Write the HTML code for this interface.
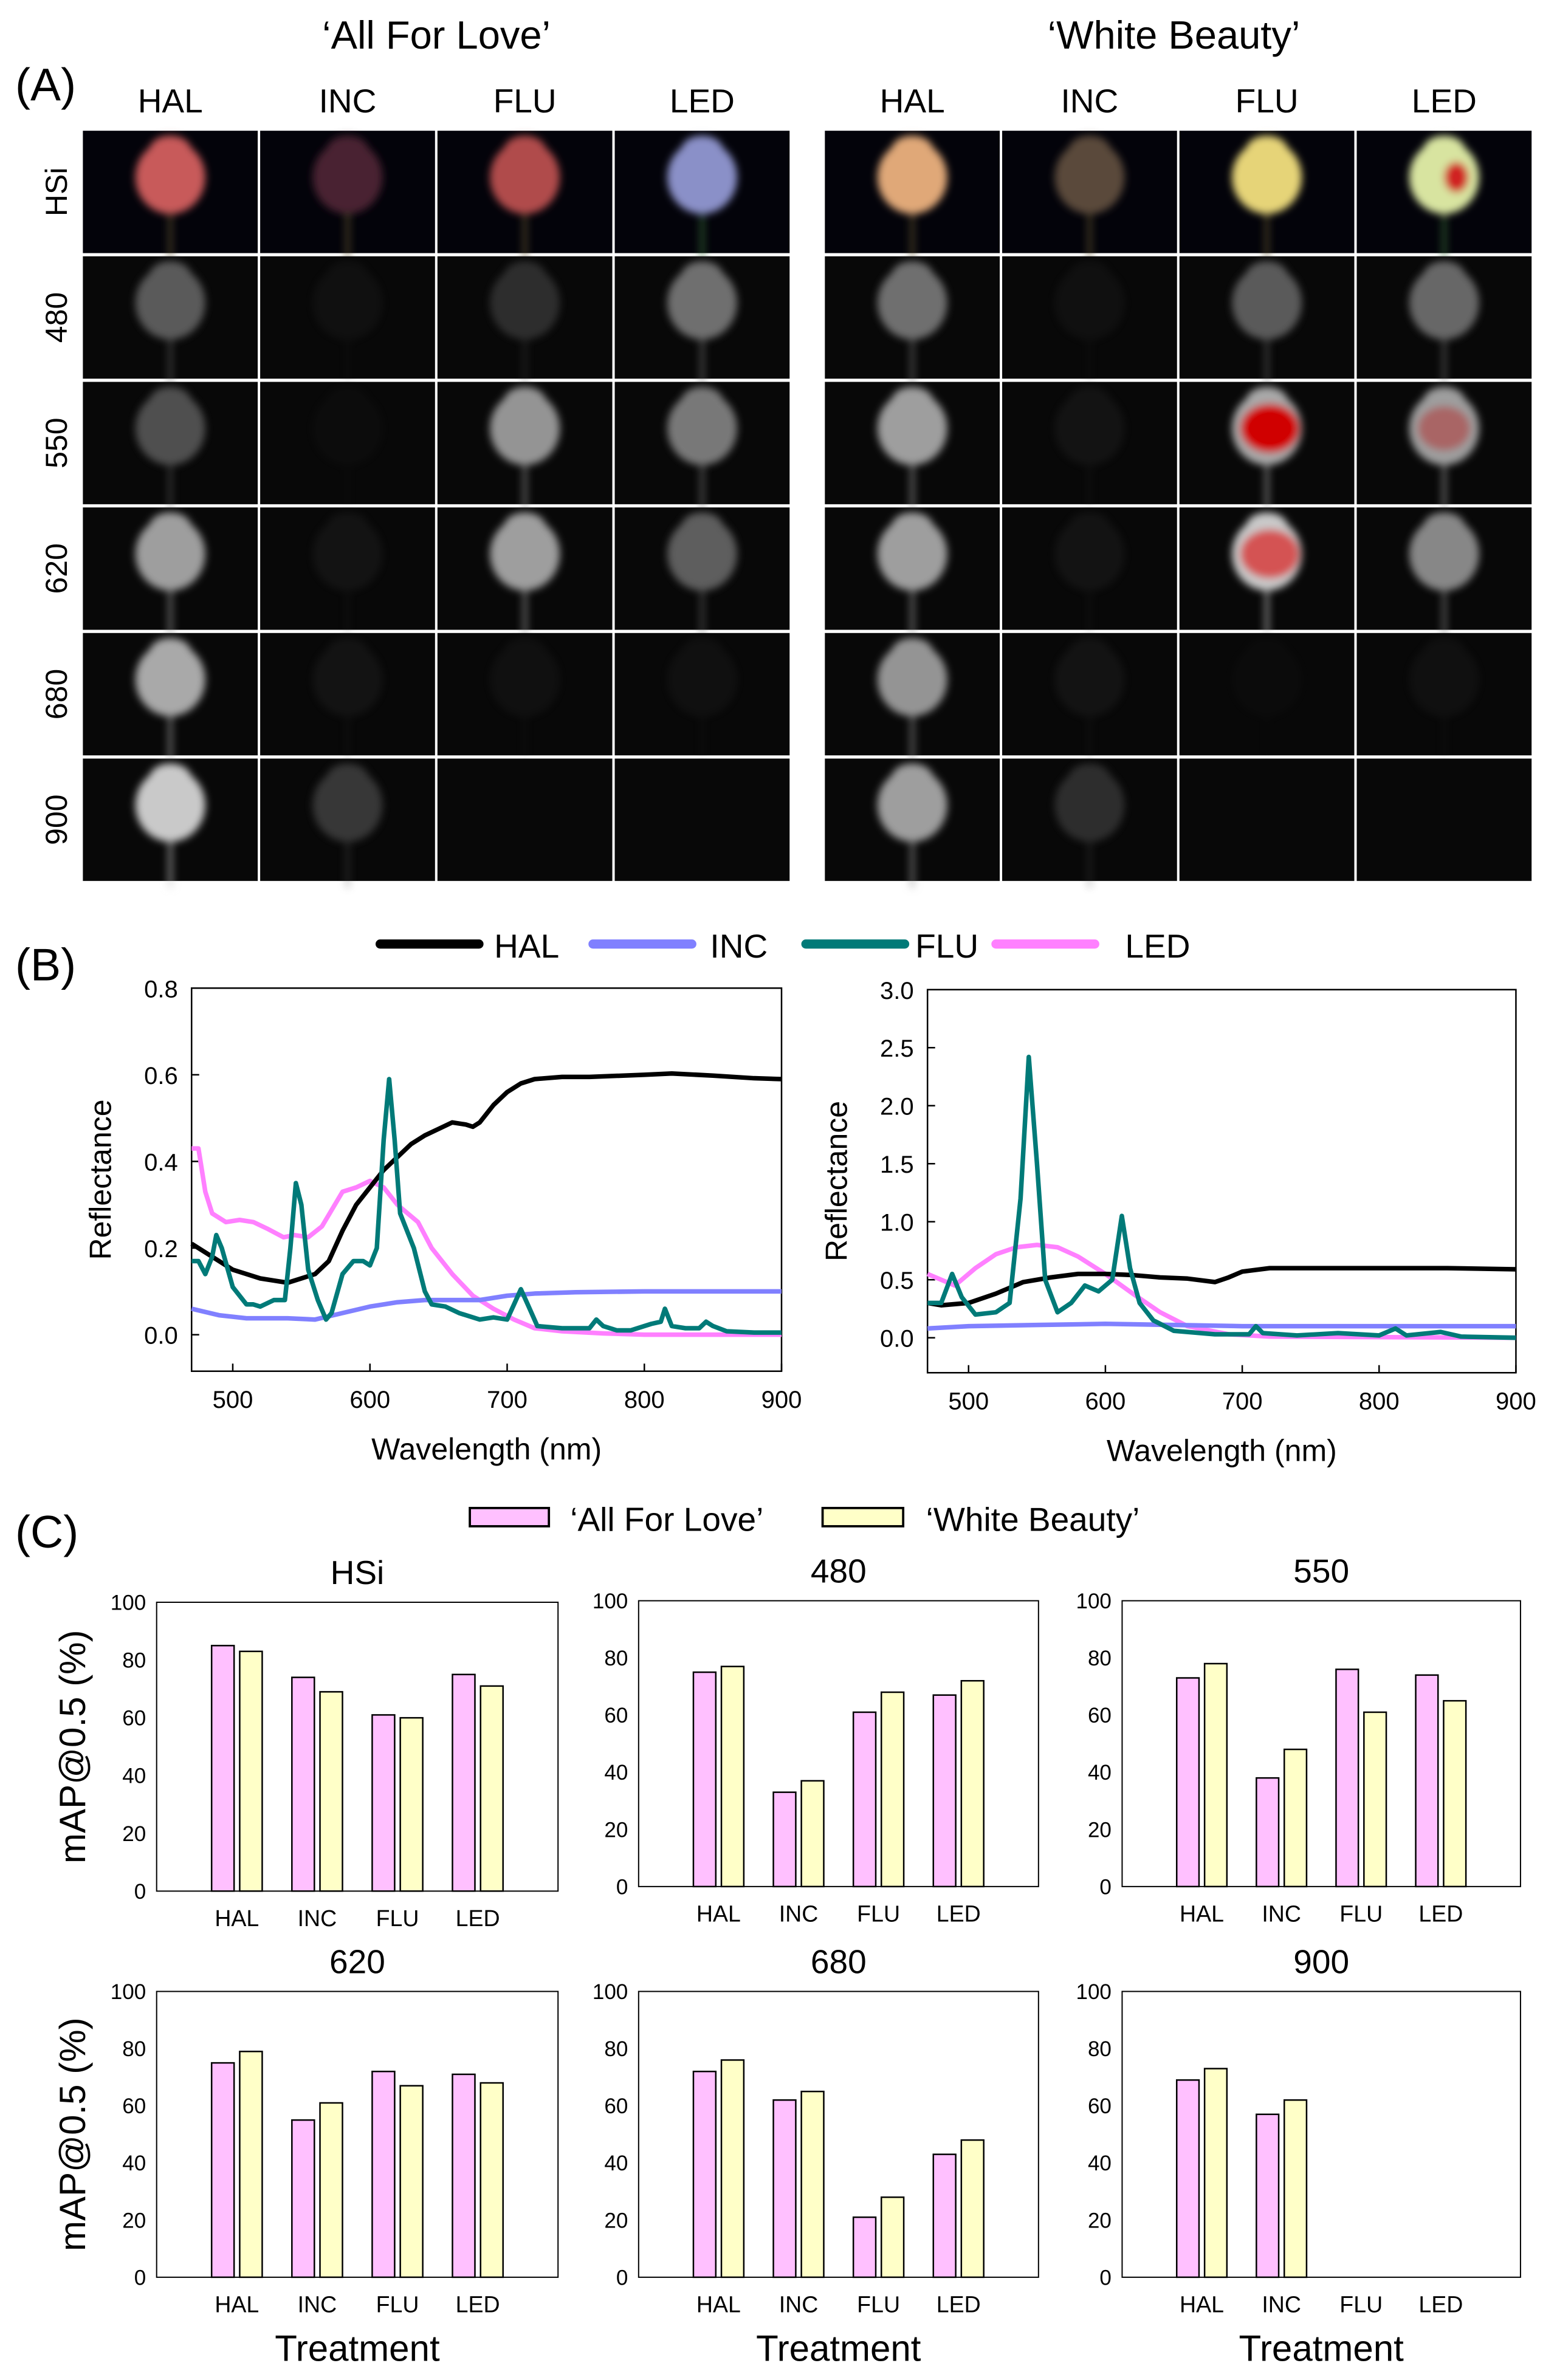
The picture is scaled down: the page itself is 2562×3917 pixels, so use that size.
<!DOCTYPE html>
<html><head><meta charset="utf-8"><style>
html,body{margin:0;padding:0;background:#fff}
svg{display:block}
text{font-family:"Liberation Sans",Arial,sans-serif;fill:#000}
</style></head><body>
<svg id="fig" width="2562" height="3917" viewBox="0 0 1024 1565.6" xmlns="http://www.w3.org/2000/svg">
<defs>
<filter id="blur" x="-30%" y="-30%" width="160%" height="160%"><feGaussianBlur stdDeviation="2.5"/></filter>
</defs>
<g id="panelA"></g>
<g id="panelB"></g>
<g id="panelC"></g>
</svg>
<script>
// ---------- Panel B data ----------
const wlL_HAL=[470,480,490,500,510,520,530,540,550,560,570,580,590,600,610,620,630,640,650,660,670,675,680,690,700,710,720,740,760,800,820,850,880,900];
const rfL_HAL=[0.21,0.19,0.17,0.15,0.14,0.13,0.125,0.12,0.13,0.14,0.17,0.24,0.30,0.34,0.38,0.41,0.44,0.46,0.475,0.49,0.485,0.48,0.49,0.53,0.56,0.58,0.59,0.595,0.595,0.6,0.603,0.598,0.592,0.59];
const wlL_INC=[470,490,510,540,560,580,600,620,640,680,700,720,750,800,900];
const rfL_INC=[0.06,0.045,0.038,0.038,0.035,0.05,0.065,0.075,0.08,0.08,0.09,0.095,0.098,0.1,0.1];
const wlL_FLU=[470,475,480,485,488,492,500,510,515,520,530,538,542,546,550,555,562,568,572,580,588,595,600,605,610,614,618,622,632,640,645,655,665,680,690,700,705,710,715,722,740,760,765,770,780,790,805,812,815,820,830,840,845,850,860,880,900];
const rfL_FLU=[0.17,0.17,0.14,0.18,0.23,0.2,0.11,0.07,0.07,0.065,0.08,0.08,0.2,0.35,0.3,0.15,0.08,0.035,0.05,0.14,0.17,0.17,0.16,0.2,0.45,0.59,0.45,0.28,0.2,0.1,0.07,0.065,0.05,0.035,0.04,0.035,0.07,0.105,0.07,0.02,0.015,0.015,0.035,0.02,0.01,0.01,0.025,0.03,0.06,0.02,0.015,0.015,0.03,0.02,0.008,0.005,0.005];
const wlL_LED=[470,475,480,485,495,505,515,525,537,545,555,565,580,590,600,610,620,635,645,660,675,690,705,720,740,770,800,900];
const rfL_LED=[0.43,0.43,0.33,0.28,0.26,0.265,0.26,0.245,0.225,0.23,0.225,0.25,0.33,0.34,0.355,0.34,0.3,0.26,0.2,0.14,0.09,0.06,0.035,0.015,0.008,0.003,0,0];
const wlR_HAL=[470,480,500,520,540,560,580,600,620,640,660,680,690,700,720,760,800,850,900];
const rfR_HAL=[0.3,0.28,0.3,0.38,0.48,0.52,0.55,0.55,0.54,0.52,0.51,0.48,0.52,0.57,0.6,0.6,0.6,0.6,0.59];
const wlR_INC=[470,500,550,600,650,700,900];
const rfR_INC=[0.08,0.1,0.11,0.12,0.11,0.1,0.1];
const wlR_FLU=[470,480,488,495,505,520,530,538,544,550,556,565,575,585,595,605,612,618,625,635,650,680,705,710,715,740,770,800,812,820,845,860,900];
const rfR_FLU=[0.3,0.3,0.55,0.35,0.2,0.22,0.3,1.2,2.42,1.5,0.5,0.22,0.3,0.45,0.4,0.5,1.05,0.6,0.3,0.15,0.06,0.03,0.03,0.1,0.04,0.02,0.04,0.02,0.08,0.02,0.05,0.01,0];
const wlR_LED=[470,490,505,520,535,550,565,580,600,620,640,660,690,720,900];
const rfR_LED=[0.55,0.45,0.6,0.72,0.78,0.8,0.78,0.7,0.55,0.38,0.22,0.1,0.03,0.01,0];
const ticksL=["0.0","0.2","0.4","0.6","0.8"];
const ticksR=["0.0","0.5","1.0","1.5","2.0","2.5","3.0"];
const xTicks=["500","600","700","800","900"];
// ---------- Panel C data ----------
const cats=["HAL","INC","FLU","LED"];
const bandTitles=["HSi","480","550","620","680","900"];
const afl=[[85,74,61,75],[75,33,61,67],[73,38,76,74],[75,55,72,71],[72,62,21,43],[69,57,0,0]];
const wb=[[83,69,60,71],[77,37,68,72],[78,48,61,65],[79,61,67,68],[76,65,28,48],[73,62,0,0]];
const barTicks=["0","20","40","60","80","100"];
// ---------- Panel A image intensities ----------
const rowLabels=["HSi","480","550","620","680","900"];
const lightCols=["HAL","INC","FLU","LED"];
const aflTint=["#c85a5a","#4a2432","#b04c4c","#8a90c8"];
const wbTint=["#e0a878","#5a4a3a","#e6d478","#d8e4a0"];
const aflGray=[[0.35,0.08,0.22,0.4],[0.32,0.05,0.5,0.42],[0.55,0.1,0.55,0.36],[0.6,0.1,0.08,0.08],[0.75,0.25,0,0]];
const wbGray=[[0.4,0.08,0.35,0.38],[0.55,0.1,0.6,0.55],[0.55,0.1,0.75,0.45],[0.5,0.1,0.04,0.08],[0.55,0.22,0,0]];

const NS="http://www.w3.org/2000/svg";
function mk(tag,attrs,parent,txt){const e=document.createElementNS(NS,tag);for(const k in attrs)e.setAttribute(k,attrs[k]);if(txt!==undefined)e.textContent=txt;parent.appendChild(e);return e;}

// ===== Panel A =====
const A=document.getElementById('panelA');
let t;
t=mk('text',{x:10,y:66,'font-size':30},A,'(A)');

t=mk('text',{x:287,y:32,'font-size':26,'text-anchor':'middle'},A,'\u2018All For Love\u2019');

t=mk('text',{x:772,y:32,'font-size':26,'text-anchor':'middle'},A,'\u2018White Beauty\u2019');

const groups=[{x0:54.5,tint:aflTint,gray:aflGray,name:'all-for-love'},{x0:542.5,tint:wbTint,gray:wbGray,name:'white-beauty'}];
const cw=115,ch=80.5,pitchX=116.6,pitchY=82.6,y0=86;
groups.forEach((g,gi)=>{
  lightCols.forEach((lc,ci)=>{
    t=mk('text',{x:g.x0+ci*pitchX+cw/2,y:74,'font-size':22,'text-anchor':'middle'},A,lc);
    
  });
  rowLabels.forEach((rl,ri)=>{
    lightCols.forEach((lc,ci)=>{
      const x=g.x0+ci*pitchX,y=y0+ri*pitchY;
      const cell=mk('g',{},A);
      
      
      mk('rect',{x:x,y:y,width:cw,height:ch,fill:ri==0?'#03030a':'#080808'},cell);
      let col,op=1;
      if(ri==0){col=g.tint[ci];}
      else{const v=g.gray[ri-1][ci];const c=Math.round(40+215*v);col='rgb('+c+','+c+','+c+')';op=Math.min(1,v*2.2);}
      if(op>0.02){
        const cx=x+cw/2,cy=y+ch*0.38;
        const gg=mk('g',{opacity:op,filter:'url(#blur)'},cell);
        mk('rect',{x:cx-1.5,y:cy+10,width:3,height:ch*0.55,fill:ri==0?(ci==3?'#3a7a3a':'#6a5a30'):col,opacity:0.6},gg);
        mk('ellipse',{cx:cx,cy:cy,rx:cw*0.2,ry:ch*0.3,fill:col},gg);
        mk('ellipse',{cx:cx,cy:cy-ch*0.22,rx:cw*0.12,ry:ch*0.12,fill:col},gg);
        if(gi==1&&ci==2&&(ri==2||ri==3)){mk('ellipse',{cx:cx+2,cy:cy,rx:cw*0.17,ry:ch*0.2,fill:ri==2?'#d00000':'#d82020',opacity:ri==2?1:0.7},gg);}
        if(gi==1&&ci==3&&ri==0){mk('ellipse',{cx:cx+8,cy:cy,rx:8,ry:10,fill:'#d02020'},gg);}
        if(gi==1&&ci==3&&ri==2){mk('ellipse',{cx:cx,cy:cy,rx:cw*0.15,ry:ch*0.18,fill:'#b04040',opacity:0.6},gg);}
      }
    });
  });
});
rowLabels.forEach((rl,ri)=>{
  const cy=y0+ri*pitchY+ch/2;
  t=mk('text',{x:0,y:0,'font-size':20,'text-anchor':'middle',transform:'translate(44,'+cy+') rotate(-90)'},A,rl);
  
});

// ===== Panel B =====
const B=document.getElementById('panelB');
t=mk('text',{x:10,y:645,'font-size':30},B,'(B)');

const legendItems=[["HAL","#000",250,325],["INC","#8080ff",390,467],["FLU","#007a78",530,602],["LED","#ff80ff",655,740]];
legendItems.forEach(li=>{
  const g=mk('g',{},B);
  
  mk('line',{x1:li[2],y1:621,x2:li[2]+65,y2:621,stroke:li[1],'stroke-width':6,'stroke-linecap':'round'},g);
  mk('text',{x:li[3],y:630,'font-size':22},g,li[0]);
});
function lineChart(opt){
  const g=mk('g',{},B);
  
  const X=w=>opt.x0+(w-470)/(900-470)*(opt.x1-opt.x0);
  const Y=v=>opt.yZero-(v/opt.yMaxTick)*(opt.yZero-opt.yTop);
  const r=mk('rect',{x:opt.x0,y:opt.yTop,width:opt.x1-opt.x0,height:opt.yBot-opt.yTop,fill:'none',stroke:'#000','stroke-width':1},g);
  
  opt.ticks.forEach((tk,i)=>{
    const v=parseFloat(tk),y=Y(v);
    mk('line',{x1:opt.x0,y1:y,x2:opt.x0+5,y2:y,stroke:'#000','stroke-width':1},g);
    const tt=mk('text',{x:opt.x0-9,y:y+6,'font-size':16,'text-anchor':'end'},g,tk);
    
  });
  xTicks.forEach(tk=>{
    const x=X(+tk);
    mk('line',{x1:x,y1:opt.yBot,x2:x,y2:opt.yBot-5,stroke:'#000','stroke-width':1},g);
    const tt=mk('text',{x:x,y:opt.yBot+24,'font-size':16,'text-anchor':'middle'},g,tk);
    
  });
  let tt=mk('text',{x:(opt.x0+opt.x1)/2,y:opt.yBot+58,'font-size':20,'text-anchor':'middle'},g,'Wavelength (nm)');
  
  tt=mk('text',{x:0,y:0,'font-size':20,'text-anchor':'middle',transform:'translate('+opt.ytx+','+((opt.yTop+opt.yBot)/2)+') rotate(-90)'},g,'Reflectance');
  
  opt.series.forEach(s=>{
    const d=s.w.map((w,i)=>(i?'L':'M')+X(w).toFixed(2)+','+Y(s.v[i]).toFixed(2)).join('');
    const p=mk('path',{d:d,fill:'none',stroke:s.c,'stroke-width':3,'stroke-linejoin':'round'},g);
    
  });
}
lineChart({name:'chart-all-for-love-spectra',x0:126,x1:514,yTop:650,yBot:902,yZero:878,yMaxTick:0.8,ticks:ticksL,ytx:73,
  series:[{n:'led',c:'#ff80ff',w:wlL_LED,v:rfL_LED},{n:'inc',c:'#8080ff',w:wlL_INC,v:rfL_INC},{n:'hal',c:'#000',w:wlL_HAL,v:rfL_HAL},{n:'flu',c:'#007a78',w:wlL_FLU,v:rfL_FLU}]});
lineChart({name:'chart-white-beauty-spectra',x0:610,x1:997,yTop:651,yBot:903,yZero:880,yMaxTick:3.0,ticks:ticksR,ytx:557,
  series:[{n:'led',c:'#ff80ff',w:wlR_LED,v:rfR_LED},{n:'inc',c:'#8080ff',w:wlR_INC,v:rfR_INC},{n:'hal',c:'#000',w:wlR_HAL,v:rfR_HAL},{n:'flu',c:'#007a78',w:wlR_FLU,v:rfR_FLU}]});

// ===== Panel C =====
const C=document.getElementById('panelC');
t=mk('text',{x:10,y:1018,'font-size':30},C,'(C)');

let lg=mk('g',{},C);
mk('rect',{x:309,y:992,width:52,height:12,fill:'#ffc0ff',stroke:'#000','stroke-width':1.5},lg);
mk('text',{x:375,y:1007,'font-size':22},lg,'\u2018All For Love\u2019');
lg=mk('g',{},C);
mk('rect',{x:541,y:992,width:53,height:12,fill:'#ffffc8',stroke:'#000','stroke-width':1.5},lg);
mk('text',{x:609,y:1007,'font-size':22},lg,'\u2018White Beauty\u2019');
const plots=[[103,367,1054,1244],[420,683,1053,1241],[738,1000,1053,1241],[103,367,1310,1498],[420,683,1310,1498],[738,1000,1310,1498]];
plots.forEach((p,pi)=>{
  const [x0,x1,yT,yB]=p;
  const g=mk('g',{},C);
  
  const band=(x1-x0)/5;
  const Y=v=>yB-v/100*(yB-yT);
  const fr=mk('rect',{x:x0,y:yT,width:x1-x0,height:yB-yT,fill:'none',stroke:'#000','stroke-width':0.8},g);
  
  let tt=mk('text',{x:(x0+x1)/2,y:yT-12,'font-size':22,'text-anchor':'middle'},g,bandTitles[pi]);
  
  barTicks.forEach(tk=>{
    const y=Y(+tk);
    const q=mk('text',{x:x0-7,y:y+5,'font-size':14,'text-anchor':'end'},g,tk);
    
  });
  cats.forEach((c,ci)=>{
    const cx=x0+band*(ci+1);
    const q=mk('text',{x:cx,y:yB+23,'font-size':15,'text-anchor':'middle'},g,c);
    
    const bw=band*0.28;
    [[afl[pi][ci],'#ffc0ff',-band*0.175,'all-for-love'],[wb[pi][ci],'#ffffc8',band*0.175,'white-beauty']].forEach(b=>{
      if(b[0]<=0)return;
      const r=mk('rect',{x:cx+b[2]-bw/2,y:Y(b[0]),width:bw,height:yB-Y(b[0]),fill:b[1],stroke:'#000','stroke-width':1},g);
      
    });
  });
  if(pi>=3){
    tt=mk('text',{x:(x0+x1)/2,y:1553,'font-size':24,'text-anchor':'middle'},g,'Treatment');
    
  }
  if(pi%3==0){
    tt=mk('text',{x:0,y:0,'font-size':24,'text-anchor':'middle',transform:'translate(56,'+((yT+yB)/2)+') rotate(-90)'},g,'mAP@0.5 (%)');
    
  }
});
</script>
</body></html>
